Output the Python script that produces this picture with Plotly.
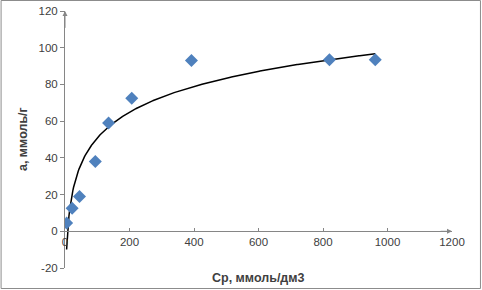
import numpy as np
import plotly.graph_objects as go

# Data
cp = [5, 22, 45, 94, 135, 207, 392, 820, 962]
a_vals = [4.5, 12.5, 19, 38, 59, 72.5, 93, 93.5, 93.5]

x_ticks = [0, 200, 400, 600, 800, 1000, 1200]
y_ticks = [-20, 0, 20, 40, 60, 80, 100, 120]

x_title = "Ср, ммоль/дм3"
y_title = "а, ммоль/г"

# Logarithmic trendline (least squares on ln x)
coef = np.polyfit(np.log(cp), a_vals, 1)
xf = np.linspace(min(cp), max(cp), 400)
yf = coef[0] * np.log(xf) + coef[1]

W, H = 482, 290
ml, mr, mt, mb = 64.5, 30, 11, 22
xr = [0, 1200]
yr = [-20, 120]
font = "Liberation Sans"
axis_col = "#868686"

fig = go.Figure()
fig.add_trace(go.Scatter(x=xf, y=yf, mode="lines",
                         line=dict(color="black", width=1.5),
                         hoverinfo="skip", showlegend=False))
fig.add_trace(go.Scatter(x=cp, y=a_vals, mode="markers",
                         marker=dict(symbol="diamond", size=10, color="#4F81BD",
                                     line=dict(width=0)),
                         showlegend=False))

fig.update_layout(
    width=W, height=H,
    margin=dict(l=ml, r=mr, t=mt, b=mb, autoexpand=False),
    paper_bgcolor="white", plot_bgcolor="white",
    font=dict(family=font, size=11, color="#404040"),
    xaxis=dict(range=xr, tickvals=x_ticks, ticktext=[str(v) for v in x_ticks],
               showgrid=False, zeroline=False,
               showline=True, linecolor=axis_col, linewidth=1,
               ticks="inside", ticklen=3, tickcolor=axis_col,
               anchor="free", position=(0 - yr[0]) / (yr[1] - yr[0]),
               automargin=False,
               tickfont=dict(size=11.5, color="#404040")),
    yaxis=dict(range=yr, tickvals=y_ticks, ticktext=[str(v) for v in y_ticks],
               showgrid=False, zeroline=False,
               showline=True, linecolor=axis_col, linewidth=1,
               ticks="outside", ticklen=4, tickcolor=axis_col,
               automargin=False,
               tickfont=dict(size=11.5, color="#404040")),
)

pw, ph = W - ml - mr, H - mt - mb

# axis titles
fig.add_annotation(text="<b>" + x_title + "</b>", xref="paper", yref="paper",
                   x=0.5, y=-(mb - 3) / ph, yanchor="bottom",
                   showarrow=False, font=dict(size=12.5, color="#404040", family=font))
fig.add_annotation(text="<b>" + y_title + "</b>", xref="paper", yref="paper",
                   x=-(ml - 22) / pw, y=0.5, xanchor="center", yanchor="middle",
                   textangle=-90, showarrow=False,
                   font=dict(size=12.5, color="#404040", family=font))

# axis arrows
fig.add_annotation(x=xr[1], y=0, ax=xr[1] - 40, ay=0, xref="x", yref="y",
                   axref="x", ayref="y", showarrow=True, arrowhead=2,
                   arrowsize=1, arrowwidth=1, arrowcolor=axis_col, text="")
fig.add_annotation(x=0, y=yr[1], ax=0, ay=yr[1] - 10, xref="x", yref="y",
                   axref="x", ayref="y", showarrow=True, arrowhead=2,
                   arrowsize=1, arrowwidth=1, arrowcolor=axis_col, text="")

# outer chart border
fig.add_shape(type="rect", xref="paper", yref="paper",
              x0=-(ml - 0.5) / pw, x1=1 + (mr - 1.5) / pw,
              y0=-(mb - 1.5) / ph, y1=1 + (mt - 0.5) / ph,
              line=dict(color="#8c8c8c", width=1), fillcolor="rgba(0,0,0,0)",
              layer="above")

fig.write_html("out.html", config={"displayModeBar": False},
               post_script="document.body.style.margin='0px';")
